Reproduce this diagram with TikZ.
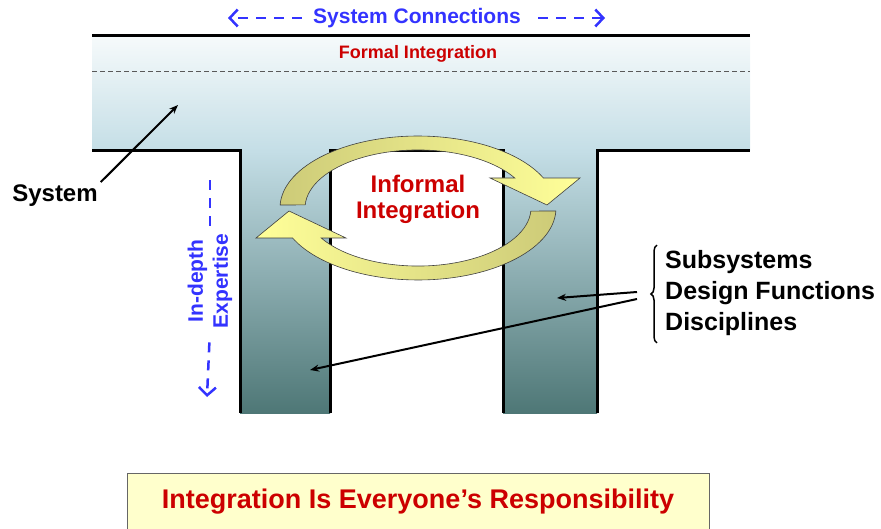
\documentclass[tikz,border=0pt]{standalone}
\usepackage{fontspec}
\setmainfont{Liberation Sans}
\usetikzlibrary{arrows.meta,decorations.pathreplacing}

\definecolor{integred}{HTML}{CC0000}
\definecolor{linkblue}{HTML}{3333FF}
\definecolor{bandtop}{HTML}{F6FAFB}
\definecolor{bandlow}{HTML}{C4DEE6}
\definecolor{coldark}{HTML}{4E7776}
\definecolor{swirldark}{HTML}{CDCB78}
\definecolor{swirllight}{HTML}{FFFF99}
\definecolor{mottofill}{HTML}{FFFFCC}

\begin{document}
\begin{tikzpicture}[x=1pt,y=-1pt,
		tag/.style 2 args={font=\bfseries\fontsize{#1}{#2}\selectfont, inner sep=0pt},
		wall/.style={line width=3pt},
		swirl/.style={draw=black!75, line width=0.6pt},
		pointer/.style={line width=2pt, -{Stealth[length=9pt,width=7pt]}},
		linkdash/.style={linkblue, line width=2.5pt, dash pattern=on 10pt off 8pt},
		linktip/.style={-{Straight Barb[length=8pt,width=17pt]}}]
		\useasboundingbox (0,0) rectangle (881,529);

		\shade[top color=bandtop, bottom color=bandlow] (92,36) rectangle (750,151);
		\shade[top color=bandlow, bottom color=coldark] (240,151) rectangle (330,413);
		\shade[top color=bandlow, bottom color=coldark] (503,151) rectangle (597,413);
		\draw[black!65, line width=1pt, dash pattern=on 5pt off 3pt] (92,72) -- (750,72);
		\draw[wall] (92,36) -- (750,36);
		\draw[wall] (92,151) -- (240,151) -- (240,413);
		\draw[wall] (330,413) -- (330,151) -- (503,151) -- (503,413);
		\draw[wall] (597,413) -- (597,151) -- (750,151);

		\shadedraw[swirl, left color=swirldark, right color=swirllight]
			(280.1,205) arc[start angle=177.6, end angle=24.6, x radius=138pt, y radius=72pt]
			-- (580,178) -- (547,205) -- (490,178) -- (514.8,178)
			arc[start angle=31.1, end angle=177, x radius=113pt, y radius=58pt] -- cycle;
		\shadedraw[swirl, left color=swirllight, right color=swirldark]
			(555.9,211) arc[start angle=357.6, end angle=204.6, x radius=138pt, y radius=72pt]
			-- (256,238) -- (289,211) -- (346,238) -- (321.2,238)
			arc[start angle=211.1, end angle=357, x radius=113pt, y radius=58pt] -- cycle;

		\draw (417,18) node [tag={21}{25}, text=linkblue] (conn) {System Connections};
		\draw (418,54) node [tag={18}{22}, text=integred] (formal) {Formal Integration};
		\draw (418,199) node [tag={24}{26}, text=integred, align=center] (informal) {Informal\\Integration};
		\draw (55,196) node [tag={24}{28}] (system) {System};
		\draw (210,281) node [tag={21}{25}, text=linkblue, rotate=90, align=center] (expertise) {In-depth\\Expertise};
		\draw (665,293) node [tag={25}{31}, anchor=west, align=left] (parts) {Subsystems\\Design Functions\\Disciplines};
		\draw (418,502) node [tag={27}{30}, text=integred, draw=black!60, fill=mottofill,
			minimum width=582pt, minimum height=57pt] (motto) {Integration Is Everyone’s Responsibility};

		\coordinate (connL) at (228,18);
		\coordinate (connR) at (605,18);
		\coordinate (exptop) at (210,180);
		\coordinate (expbot) at (207,397);
		\coordinate (systip) at (178,105);
		\coordinate (rightcol) at (557,298);
		\coordinate (leftcol) at (310,370);

		\draw[linkdash, linktip, shorten <=11pt] (conn.west) -- (connL);
		\draw[linkdash, linktip, shorten <=17pt] (conn.east) -- (connR);
		\draw[linkdash, shorten <=8pt] (expertise.east) -- (exptop);
		\draw[linkdash, linktip, shorten <=14pt] (expertise.west) -- (expbot);
		\draw[pointer, shorten <=4pt] (system.north east) -- (systip);
		\draw[line width=1.5pt, decorate, decoration={brace, amplitude=6pt}]
			([shift={(-8,7)}]parts.south west) -- ([shift={(-8,-5)}]parts.north west);
		\draw[pointer] ([shift={(-28,-1)}]parts.west) -- (rightcol);
		\draw[pointer] ([shift={(-28,6)}]parts.west) -- (leftcol);
	\end{tikzpicture}
\end{document}
